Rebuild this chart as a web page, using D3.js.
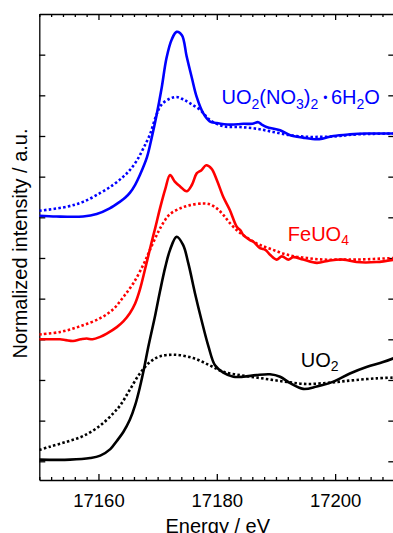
<!DOCTYPE html>
<html>
<head>
<meta charset="utf-8">
<script src="https://cdn.jsdelivr.net/npm/d3@7"></script>
<style>
  html, body { margin: 0; padding: 0; background: #fff; }
  svg { display: block; font-family: "Liberation Sans", Arial, sans-serif; }
</style>
</head>
<body>
<svg id="chart" width="393" height="533"></svg>
<script>
// energies in eV, intensities normalised to the edge step (no offset)
const uo2Exp = [
  [17150.0, 0.02], [17155.2, 0.02], [17158.6, 0.04], [17160.3, 0.07], [17162.0, 0.15],
  [17163.1, 0.25], [17164.2, 0.36], [17165.3, 0.51], [17166.2, 0.69], [17167.0, 0.91],
  [17167.7, 1.14], [17168.4, 1.40], [17169.6, 1.80], [17170.4, 2.09], [17171.3, 2.39],
  [17172.1, 2.60], [17173.2, 2.76], [17174.3, 2.66], [17175.2, 2.43], [17176.3, 2.07],
  [17177.4, 1.74], [17178.6, 1.41], [17179.7, 1.18], [17181.1, 1.09], [17182.8, 1.04],
  [17184.5, 1.04], [17186.7, 1.06], [17189.0, 1.07], [17190.7, 1.04], [17192.4, 0.96],
  [17194.6, 0.89], [17196.9, 0.92], [17199.7, 0.98], [17202.5, 1.08], [17205.3, 1.16],
  [17208.1, 1.22], [17210.0, 1.27]
];
const uo2Calc = [
  [17150.0, 0.14], [17151.8, 0.18], [17154.6, 0.24], [17157.4, 0.31], [17160.3, 0.44],
  [17162.5, 0.59], [17163.7, 0.69], [17165.3, 0.88], [17167.0, 1.08], [17168.7, 1.22],
  [17170.4, 1.29], [17172.9, 1.31], [17176.0, 1.27], [17178.8, 1.18], [17181.1, 1.10],
  [17183.9, 1.06], [17186.7, 1.03], [17189.5, 1.00], [17192.4, 0.97], [17195.2, 0.95],
  [17198.0, 0.96], [17200.8, 0.98], [17203.6, 1.00], [17207.0, 1.02], [17210.0, 1.03]
];
const feuo4Exp = [
  [17150.0, 0.00], [17151.5, 0.00], [17153.5, 0.00], [17154.5, -0.01], [17155.7, -0.02],
  [17157.0, 0.00], [17158.0, 0.01], [17159.0, 0.00], [17160.3, 0.03], [17161.4, 0.07],
  [17163.1, 0.15], [17164.2, 0.22], [17165.3, 0.32], [17166.2, 0.44], [17167.0, 0.61],
  [17168.1, 0.93], [17169.0, 1.20], [17169.6, 1.37], [17170.4, 1.61], [17171.3, 1.85],
  [17172.1, 2.02], [17172.9, 1.94], [17173.8, 1.88], [17174.9, 1.82], [17175.8, 1.90],
  [17176.6, 2.04], [17177.4, 2.08], [17178.2, 2.14], [17179.1, 2.10], [17180.0, 1.96],
  [17181.1, 1.75], [17182.2, 1.59], [17183.4, 1.38], [17184.0, 1.34], [17184.5, 1.28],
  [17185.6, 1.22], [17186.2, 1.20], [17187.3, 1.12], [17188.2, 1.10], [17189.0, 1.04],
  [17190.1, 0.98], [17191.0, 1.02], [17192.1, 0.98], [17192.9, 1.01], [17194.6, 0.98],
  [17196.9, 0.94], [17199.1, 0.97], [17201.4, 0.98], [17203.6, 0.95], [17207.0, 0.95],
  [17210.0, 0.98]
];
const feuo4Calc = [
  [17150.0, 0.06], [17153.5, 0.09], [17156.9, 0.16], [17160.3, 0.26], [17162.5, 0.37],
  [17164.2, 0.52], [17165.9, 0.69], [17167.6, 0.92], [17168.7, 1.10], [17170.1, 1.32],
  [17171.2, 1.46], [17172.1, 1.54], [17173.8, 1.61], [17175.5, 1.65], [17177.7, 1.67],
  [17178.8, 1.66], [17180.0, 1.61], [17181.1, 1.53], [17182.2, 1.43], [17183.4, 1.34],
  [17184.5, 1.28], [17186.7, 1.18], [17189.5, 1.10], [17192.4, 1.03], [17195.2, 1.00],
  [17198.0, 0.98], [17200.8, 0.98], [17203.6, 0.98], [17210.0, 1.00]
];
const uranylExp = [
  [17150.0, 0.02], [17152.9, 0.01], [17157.4, 0.01], [17159.7, 0.04], [17161.9, 0.11],
  [17163.6, 0.19], [17164.5, 0.24], [17165.3, 0.30], [17166.2, 0.40], [17167.0, 0.52],
  [17168.2, 0.74], [17169.0, 0.98], [17169.8, 1.25], [17170.7, 1.60], [17171.5, 1.96],
  [17172.4, 2.19], [17173.2, 2.28], [17174.1, 2.24], [17174.9, 1.98], [17175.8, 1.71],
  [17176.6, 1.48], [17177.7, 1.28], [17178.8, 1.18], [17180.0, 1.16], [17182.2, 1.14],
  [17184.5, 1.15], [17186.0, 1.15], [17187.0, 1.17], [17187.6, 1.14], [17188.4, 1.11],
  [17190.7, 1.07], [17192.4, 1.01], [17194.6, 0.98], [17196.9, 0.96], [17198.0, 0.97],
  [17199.7, 1.00], [17202.5, 1.02], [17205.3, 1.03], [17210.0, 1.03]
];
const uranylCalc = [
  [17150.0, 0.08], [17154.6, 0.13], [17157.4, 0.19], [17160.3, 0.30], [17162.5, 0.40],
  [17164.2, 0.50], [17165.3, 0.58], [17166.5, 0.70], [17167.6, 0.85], [17168.7, 1.02],
  [17169.8, 1.26], [17170.7, 1.39], [17172.1, 1.46], [17173.2, 1.48], [17174.3, 1.45],
  [17175.5, 1.40], [17177.2, 1.32], [17178.8, 1.20], [17181.1, 1.12], [17183.9, 1.11],
  [17186.7, 1.09], [17189.5, 1.05], [17192.4, 1.01], [17195.2, 0.99], [17198.0, 0.99],
  [17200.8, 1.00], [17203.6, 1.02], [17210.0, 1.03]
];

const seriesColors = ['#000000', '#ff0000', '#0000ff'];
const seriesOffsets = [0, 1.5, 3.0];
const expData = [uo2Exp, feuo4Exp, uranylExp];
const calcData = [uo2Calc, feuo4Calc, uranylCalc];

// label pieces: t = text, sub = subscript
const seriesLabels = [
  [{ t: 'UO' }, { t: '2', sub: true }],
  [{ t: 'FeUO' }, { t: '4', sub: true }],
  [{ t: 'UO' }, { t: '2', sub: true }, { t: '(NO' }, { t: '3', sub: true }, { t: ')' },
   { t: '2', sub: true }, { t: '•', dot: true }, { t: '6H' }, { t: '2', sub: true }, { t: 'O' }]
];
const labelAnchors = [[17194.2, 1.16], [17192.0, 2.71], [17180.8, 4.39]];

const xTickValues = [17160, 17180, 17200];
const yTickValues = d3.range(0, 5.01, 0.5);

const svg = d3.select('#chart');
const plotLeft = 39.3, plotRight = 394.3, plotTop = 14, plotBottom = 480;

const x = d3.scaleLinear().domain([17150, 17210]).range([plotLeft, plotRight]);
const y = d3.scaleLinear().domain([-0.23, 5.5]).range([plotBottom, plotTop]);

svg.append('defs').append('clipPath').attr('id', 'plot')
  .append('rect')
  .attr('x', plotLeft).attr('y', plotTop)
  .attr('width', plotRight - plotLeft).attr('height', plotBottom - plotTop);

// frame with inward ticks on all four sides
const minorX = d3.range(17150, 17211, 2).filter(v => !xTickValues.includes(v));

svg.append('g')
  .attr('transform', `translate(0,${plotBottom})`)
  .call(d3.axisBottom(x).tickValues(xTickValues).tickFormat(d3.format('d'))
    .tickSizeInner(-6).tickSizeOuter(0).tickPadding(14))
  .call(g => g.selectAll('text').attr('font-size', 18.5).attr('fill', '#000'));
svg.append('g')
  .attr('transform', `translate(0,${plotBottom})`)
  .call(d3.axisBottom(x).tickValues(minorX).tickSize(-3).tickFormat(''))
  .call(g => g.select('.domain').remove());
svg.append('g')
  .attr('transform', `translate(0,${plotTop})`)
  .call(d3.axisTop(x).tickValues(xTickValues).tickSizeInner(-6).tickSizeOuter(0).tickFormat(''));
svg.append('g')
  .attr('transform', `translate(0,${plotTop})`)
  .call(d3.axisTop(x).tickValues(minorX).tickSize(-3).tickFormat(''))
  .call(g => g.select('.domain').remove());
svg.append('g')
  .attr('transform', `translate(${plotLeft},0)`)
  .call(d3.axisLeft(y).tickValues(yTickValues).tickSizeInner(-6).tickSizeOuter(0).tickFormat(''));
svg.append('g')
  .attr('transform', `translate(${plotRight},0)`)
  .call(d3.axisRight(y).tickValues(yTickValues).tickSizeInner(-6).tickSizeOuter(0).tickFormat(''));

svg.selectAll('.domain, .tick line')
  .attr('stroke', '#000')
  .attr('stroke-width', 1.3);

// spectra: dotted = calculated, solid = measured
const line = d3.line()
  .x(d => x(d[0]))
  .y(d => y(d[1]))
  .curve(d3.curveCatmullRom.alpha(0.5));

const curves = svg.append('g').attr('clip-path', 'url(#plot)');

seriesColors.forEach((color, i) => {
  const shift = d => [d[0], d[1] + seriesOffsets[i]];
  curves.append('path')
    .attr('d', line(calcData[i].map(shift)))
    .attr('fill', 'none')
    .attr('stroke', color)
    .attr('stroke-width', 2.6)
    .attr('stroke-dasharray', '2.5 2.3');
  curves.append('path')
    .attr('d', line(expData[i].map(shift)))
    .attr('fill', 'none')
    .attr('stroke', color)
    .attr('stroke-width', 2.6)
    .attr('stroke-linejoin', 'round');
});

// curve labels with subscripts
seriesLabels.forEach((parts, i) => {
  const label = svg.append('text')
    .attr('x', x(labelAnchors[i][0]))
    .attr('y', y(labelAnchors[i][1]))
    .attr('fill', seriesColors[i])
    .attr('font-size', 20);
  let shift = 0;
  parts.forEach((p, k) => {
    const s = label.append('tspan').text(p.t);
    let want = 0;
    if (p.sub) { s.attr('font-size', 14); want = 4.5; }
    if (p.dot) { s.attr('font-size', 12).attr('dx', 5); want = -2; }
    if (k > 0 && parts[k - 1].dot) s.attr('dx', 3.5);
    if (want !== shift) s.attr('dy', want - shift);
    shift = want;
  });
});

// axis titles
svg.append('text')
  .attr('x', (plotLeft + plotRight) / 2 + 1)
  .attr('y', 532.5)
  .attr('text-anchor', 'middle')
  .attr('font-size', 20)
  .text('Energy / eV');

svg.append('text')
  .attr('transform', 'translate(26.5,243.5) rotate(-90)')
  .attr('text-anchor', 'middle')
  .attr('font-size', 20)
  .text('Normalized intensity / a.u.');
</script>
</body>
</html>
